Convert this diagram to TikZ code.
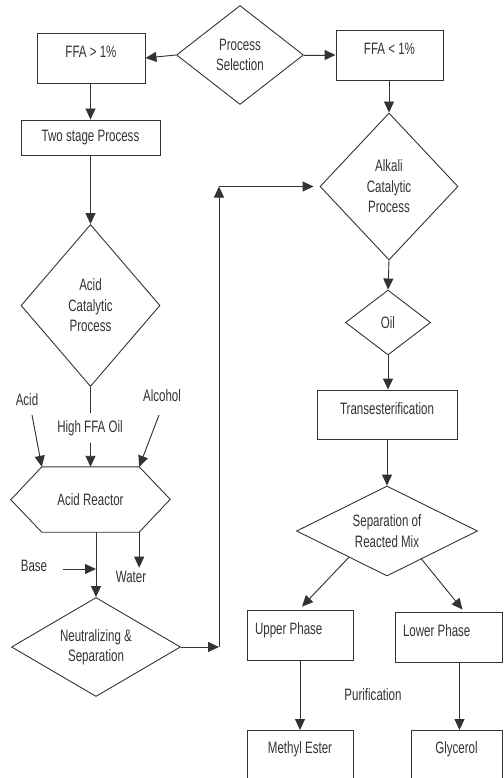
\documentclass[tikz,border=0pt]{standalone}
\usepackage{fontspec}
\setmainfont{Liberation Sans}[FakeStretch=0.7]
\usetikzlibrary{arrows.meta,shapes.geometric,positioning,calc}
\definecolor{ink}{RGB}{51,51,51}

\begin{document}
\begin{tikzpicture}[
    x=1pt, y=-1pt,
    font=\fontsize{16.5}{20.5}\selectfont, text=ink,
    box/.style={rectangle, draw=ink, line width=0.9pt, inner sep=2pt},
    topbox/.style={box, text depth=12pt},
    phase/.style={topbox, text width=#1, inner xsep=8pt, align=flush left},
    dec/.style={diamond, draw=ink, line width=0.9pt, inner sep=0pt, align=center},
    line/.style={draw=ink, line width=0.9pt},
    arrow/.style={-{Triangle[length=11pt,width=10pt]}, line width=0.9pt, draw=ink, fill=ink}
]
\useasboundingbox (0,0) rectangle (503,778);
\clip (0,0) rectangle (503,778);

% Selection
\node[dec, minimum width=127pt, minimum height=99pt] (sel) at (240,55) {Process\\Selection};
\node[topbox, minimum width=108pt, minimum height=50pt] (ffahi) at (91,58) {FFA > 1\%};
\node[topbox, minimum width=107pt, minimum height=50pt] (ffalo) at (389.5,55) {FFA < 1\%};

% Left branch: two stage
\node[box, minimum width=139pt, minimum height=35pt] (two) at (90.5,137.5) {Two stage Process};
\node[dec, minimum width=139pt, minimum height=162pt] (acid) at (90.5,305.5) {Acid\\Catalytic\\Process};
\node[inner ysep=7pt] (hffa) at (90,428) {High FFA Oil};
\node (acidin) at (27,400) {Acid};
\node (alc) at (162,396) {Alcohol};
\node[minimum width=97pt, minimum height=65pt, inner sep=0pt] (reactor) at (90.5,499.5) {Acid Reactor};
\draw[line] (reactor.north west) -- (reactor.north east) -- ++(31,32.5) -- (reactor.south east)
    -- (reactor.south west) -- ++(-31,-32.5) -- cycle;
\node (water) at (131,577) {Water};
\node (base) at (34,566) {Base};
\node[dec, minimum width=169pt, minimum height=99pt, aspect=1.7] (neut) at (96,647) {Neutralizing \&\\Separation};

% Right branch: alkali
\node[dec, minimum width=138pt, minimum height=147pt] (alkali) at (389,186.5) {Alkali\\Catalytic\\Process};
\node[dec, minimum width=85pt, minimum height=65pt] (oil) at (388,322.5) {Oil};
\node[topbox, minimum width=140pt, minimum height=49pt] (trans) at (387,414.5) {Transesterification};
\node[dec, minimum width=181pt, minimum height=90pt, aspect=2] (sep) at (387,531) {Separation of\\Reacted Mix};
\node[phase=90pt, minimum height=50pt] (upper) at (300,635) {Upper Phase};
\node[phase=91pt, minimum height=50pt] (lower) at (448.5,637) {Lower Phase};
\node (purif) at (373,695) {Purification};
\node[box, anchor=north, minimum width=106pt, inner ysep=11pt, text depth=40pt] (methyl) at (300,730) {Methyl Ester};
\node[box, anchor=north, minimum width=91pt, inner ysep=11pt, text depth=40pt] (glyc) at (456.5,730) {Glycerol};

% Arrows
\draw[arrow] (sel.west) -- (ffahi.east);
\draw[arrow] (sel.east) -- (ffalo.west);
\draw[arrow] (ffahi.south -| two.north) -- (two.north);
\draw[arrow] (two.south) -- (acid.north);
\draw[line] (acid.south) -- (hffa.north -| acid.south);
\draw[arrow] (hffa.south -| reactor.north) -- (reactor.north);
\draw[arrow] ([xshift=5pt,yshift=-5.5pt]acidin.south) -- (reactor.north west);
\draw[arrow] ([xshift=-3pt,yshift=-9.5pt]alc.south) -- (reactor.north east);
\draw[arrow] (reactor.south east) -- (reactor.south east |- water.north);
\draw[arrow] (reactor.south -| neut.north) -- (neut.north);
\coordinate (basetail) at ([xshift=12pt,yshift=-3pt]base.east);
\draw[arrow] (basetail) -- (basetail -| neut.north);

% Loop back to alkali
\coordinate (up1) at (219,647);
\coordinate (up2) at (up1 |- alkali.west);
\draw[arrow] (neut.east) -- (up1);
\draw[arrow] (up1) -- (up2);
\draw[arrow, shorten >=6pt] (up2) -- (alkali.west);

\draw[arrow] (ffalo.south -| alkali.north) -- (alkali.north);
\draw[arrow] (alkali.south) -- (oil.north);
\draw[arrow] (oil.south) -- (trans.north -| oil.south);
\draw[arrow] (trans.south) -- (sep.north);
\draw[arrow] ($(sep.south)!0.42!(sep.west)$) -- ([xshift=2pt,yshift=3pt]upper.north);
\draw[arrow] ($(sep.south)!0.38!(sep.east)$) -- ([xshift=14pt,yshift=2pt]lower.north);
\draw[arrow] (upper.south) -- (methyl.north);
\draw[arrow] ([xshift=3pt]glyc.north |- lower.south) -- ([xshift=3pt]glyc.north);

\end{tikzpicture}
\end{document}
